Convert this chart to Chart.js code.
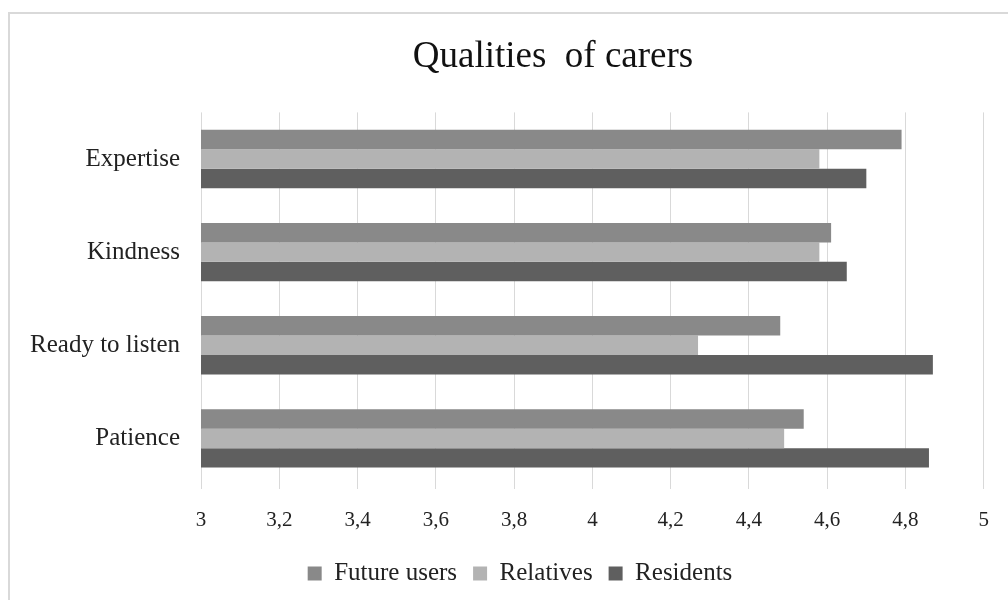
<!DOCTYPE html>
<html>
<head>
<meta charset="utf-8">
<script src="https://cdn.jsdelivr.net/npm/chart.js@4.4.1/dist/chart.umd.min.js"></script>
<style>
  html, body { margin: 0; padding: 0; background: #fff; overflow: hidden; }
  #frame { position: absolute; left: 8px; top: 12px; width: 1100px; height: 700px; border: 2px solid #d9d9d9; box-sizing: border-box; }
  #wrap { position: absolute; left: 0; top: 0; width: 1008px; height: 600px; }
</style>
</head>
<body>
<div id="frame"></div>
<div id="wrap"><canvas id="chart" width="1008" height="600"></canvas></div>
<script>
const categories = ['Expertise', 'Kindness', 'Ready to listen', 'Patience'];
const futureUsers = [4.79, 4.61, 4.48, 4.54];
const relatives = [4.58, 4.58, 4.27, 4.49];
const residents = [4.70, 4.65, 4.87, 4.86];
const xTicks = [3, 3.2, 3.4, 3.6, 3.8, 4, 4.2, 4.4, 4.6, 4.8, 5];

const serif = '"Liberation Serif", "Times New Roman", serif';
const textColor = '#222222';

// Excel centred title and legend over a wider frame; nudge them sideways
const shiftBoxes = {
    id: 'shiftBoxes',
    afterLayout(chart) {
        const t = chart.titleBlock;
        if (t) { t.left += 53; t.right += 53; }
        const l = chart.legend;
        if (l) { l.left += 20; l.right += 20; }
    }
};

const ctx = document.getElementById('chart').getContext('2d');

let chart = new Chart(ctx, {
    type: 'bar',
    data: {
        labels: categories,
        datasets: [
            { label: 'Future users', data: futureUsers, backgroundColor: '#898989' },
            { label: 'Relatives', data: relatives, backgroundColor: '#b3b3b3' },
            { label: 'Residents', data: residents, backgroundColor: '#5f5f5f' }
        ]
    },
    options: {
        indexAxis: 'y',
        responsive: false,
        animation: false,
        datasets: {
            bar: { categoryPercentage: 0.626, barPercentage: 1.0 }
        },
        layout: { padding: { top: 12, left: 10, right: 18, bottom: 4 } },
        scales: {
            x: {
                min: 3,
                max: 5,
                afterBuildTicks: s => { s.ticks = xTicks.map(v => ({ value: v })); },
                afterFit: s => { s.height = 60; },
                grid: { color: '#d9d9d9', lineWidth: 1, tickLength: 4 },
                border: { display: false },
                ticks: {
                    color: textColor,
                    font: { family: serif, size: 21 },
                    padding: 19,
                    maxRotation: 0,
                    callback: v => String(Math.round(v * 10) / 10).replace('.', ',')
                }
            },
            y: {
                afterFit: s => { s.width = 191; },
                grid: { display: false, drawTicks: false },
                border: { display: false },
                ticks: {
                    color: textColor,
                    font: { family: serif, size: 25 },
                    padding: 21
                }
            }
        },
        plugins: {
            title: {
                display: true,
                text: 'Qualities  of carers',
                color: '#111111',
                font: { family: serif, size: 37, weight: 'normal' },
                padding: { top: 23, bottom: 33 }
            },
            legend: {
                position: 'bottom',
                labels: {
                    color: textColor,
                    font: { family: serif, size: 25 },
                    boxWidth: 14,
                    boxHeight: 14,
                    padding: 16
                }
            },
            tooltip: { enabled: false }
        }
    },
    plugins: [shiftBoxes]
});
</script>
</body>
</html>
